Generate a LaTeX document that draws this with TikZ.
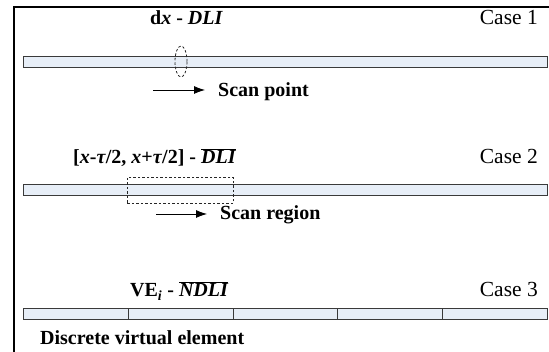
\documentclass[tikz,border=0pt]{standalone}
\usepackage{fontspec}
\setmainfont{Liberation Serif}
\usetikzlibrary{arrows.meta,shapes.geometric}
\definecolor{barfill}{HTML}{E7EEF7}
\definecolor{barline}{HTML}{3A3A3A}
\begin{document}
\begin{tikzpicture}[x=1pt,y=-1pt,
  bar/.style={draw=barline, fill=barfill, line width=0.9pt, minimum height=11pt, inner sep=0pt, anchor=north west},
  lbl/.style={font=\fontsize{20}{24}\bfseries\selectfont, inner sep=0pt, anchor=base west},
  case/.style={font=\fontsize{21.5}{25}\selectfont, inner sep=0pt, anchor=base east},
  scanarrow/.style={-{Latex[length=11pt,width=8pt]}, line width=0.8pt},
  dashmark/.style={draw=black!85, dash pattern=on 2.5pt off 2pt, line width=0.8pt, inner sep=0pt}]
\useasboundingbox (0,0) rectangle (549,352);
\draw[line width=2pt] (14,352) -- (14,7) -- (549,7);
% Case 1
\node[bar, minimum width=524pt] (bar1) at (23,56) {};
\node[dashmark, ellipse, minimum width=12pt, minimum height=31pt] (pt) at (181,61.5) {};
\node[lbl] (t1) at (150,25) {d\textit{x} - \textit{DLI}};
\node[case] (c1) at (538,25) {Case 1};
\node[lbl] (sp) at (218,97) {Scan point};
\coordinate (a1) at (153,90);
\draw[scanarrow, shorten >=13pt] (a1) -- (a1 -| sp.west);
% Case 2
\node[bar, minimum width=524pt] (bar2) at (23,184) {};
\node[dashmark, minimum width=106pt, minimum height=26pt, anchor=north west] (reg) at (127,177) {};
\node[lbl] (t2) at (73,164) {[\textit{x}-\textit{τ}/2, \textit{x}+\textit{τ}/2] - $\overline{\mbox{\textit{DLI}}}$};
\node[case] (c2) at (538,164) {Case 2};
\node[lbl] (sr) at (220,220) {Scan region};
\coordinate (a2) at (156,214);
\draw[scanarrow, shorten >=13pt] (a2) -- (a2 -| sr.west);
% Case 3
\foreach \i [evaluate=\i as \xx using {23+104.8*(\i-1)}] in {1,...,5}
  \node[bar, minimum width=104.8pt] (seg\i) at (\xx,308) {};
\node[lbl] (t3) at (130,297) {VE\textsubscript{\textit{i}} - $\overline{\mbox{\textit{NDLI}}}$};
\node[case] (c3) at (538,297) {Case 3};
\node[lbl] (dv) at (40,345) {Discrete virtual element};
\end{tikzpicture}
\end{document}
